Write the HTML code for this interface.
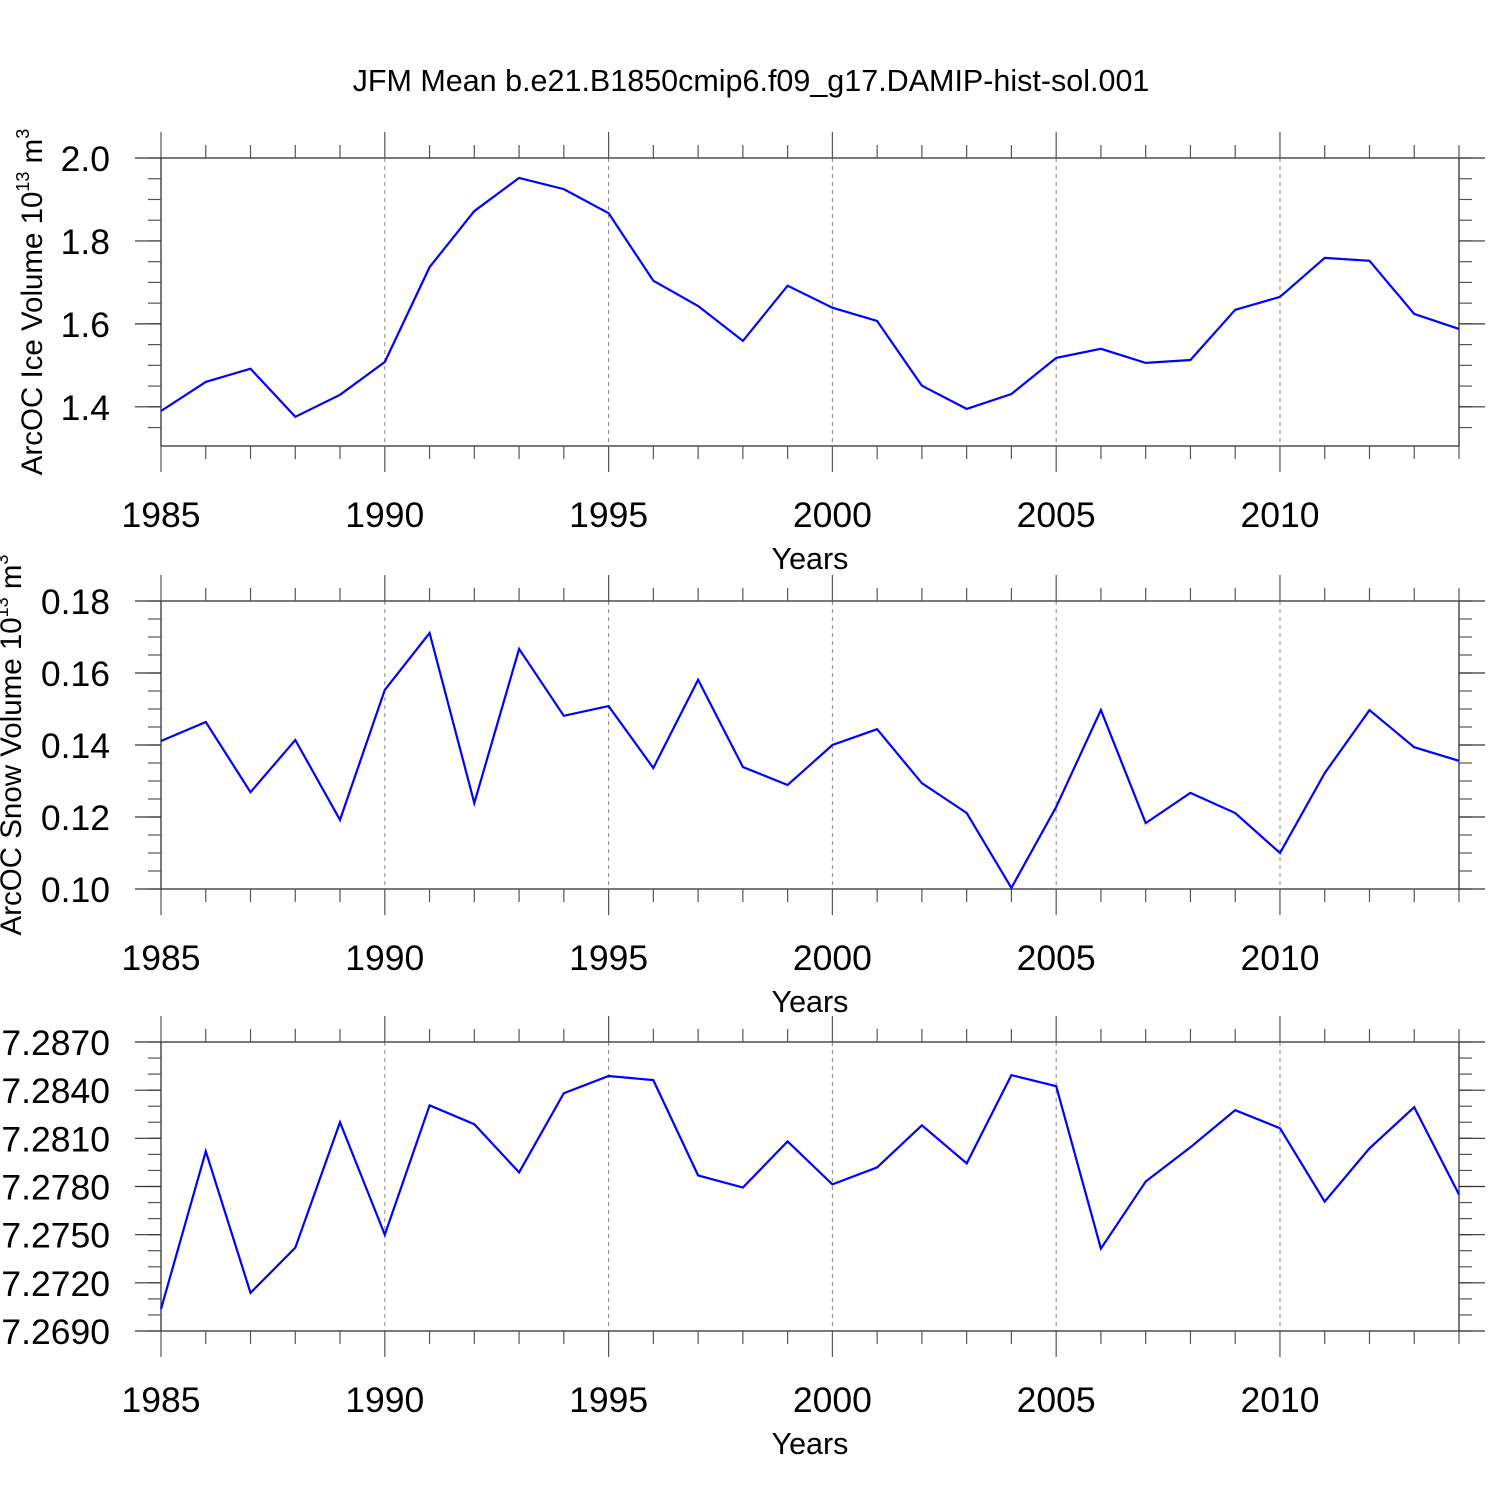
<!DOCTYPE html>
<html><head><meta charset="utf-8"><style>
html,body{margin:0;padding:0;background:#fff;}
svg{display:block;font-family:"Liberation Sans",sans-serif;}
</style></head><body>
<svg id="chart" width="1500" height="1500" viewBox="0 0 1500 1500" xmlns="http://www.w3.org/2000/svg">
<rect width="1500" height="1500" fill="#fff"/>
<text x="751" y="91" font-size="30.5" text-anchor="middle">JFM Mean b.e21.B1850cmip6.f09_g17.DAMIP-hist-sol.001</text>
</svg>
<script>
const years = [1985,1986,1987,1988,1989,1990,1991,1992,1993,1994,1995,1996,1997,1998,1999,2000,2001,2002,2003,2004,2005,2006,2007,2008,2009,2010,2011,2012,2013,2014];
const iceVolume = [1.390,1.460,1.492,1.376,1.429,1.508,1.737,1.872,1.952,1.925,1.867,1.704,1.643,1.559,1.692,1.639,1.607,1.451,1.395,1.431,1.518,1.540,1.506,1.513,1.634,1.665,1.759,1.752,1.624,1.588];
const snowVolume = [0.1411,0.1464,0.1269,0.1414,0.1192,0.1553,0.1711,0.1239,0.1667,0.1481,0.1508,0.1336,0.1581,0.1339,0.1289,0.1400,0.1444,0.1294,0.1211,0.1003,0.1228,0.1497,0.1183,0.1267,0.1211,0.1100,0.1322,0.1497,0.1394,0.1356];
const thirdSeries = [7.27037,7.28019,7.27138,7.27419,7.28200,7.27500,7.28306,7.28188,7.27888,7.28381,7.28488,7.28463,7.27869,7.27794,7.28081,7.27813,7.27919,7.28181,7.27944,7.28494,7.28425,7.27413,7.27831,7.28044,7.28275,7.28163,7.27706,7.28038,7.28294,7.27750];
const xTickLabels = ["1985","1990","1995","2000","2005","2010"];
const iceTicks = ["1.4","1.6","1.8","2.0"];
const snowTicks = ["0.10","0.12","0.14","0.16","0.18"];
const thirdTicks = ["7.2690","7.2720","7.2750","7.2780","7.2810","7.2840","7.2870"];

const NS="http://www.w3.org/2000/svg";
const svg=document.getElementById('chart');
const X0=161,X1=1459,xMin=1985,xMax=2014;
const xs=v=>X0+(v-xMin)/(xMax-xMin)*(X1-X0);
function mk(tag,attrs,parent){const e=document.createElementNS(NS,tag);for(const k in attrs)e.setAttribute(k,attrs[k]);(parent||svg).appendChild(e);return e;}

const panels=[
 {name:'ice',top:158,bot:446,yMin:1.3055,yMax:2.0,data:iceVolume,ticks:iceTicks,minor:0.05,title:'ArcOC Ice Volume 10',tx:42,ty:302},
 {name:'snow',top:601,bot:889,yMin:0.10,yMax:0.18,data:snowVolume,ticks:snowTicks,minor:0.005,title:'ArcOC Snow Volume 10',tx:21,ty:745},
 {name:'third',top:1042,bot:1331,yMin:7.269,yMax:7.287,data:thirdSeries,ticks:thirdTicks,minor:0.001,title:null}
];
panels.forEach(p=>{
 const g=mk('g',{});
 
 
 const ys=v=>p.bot-(v-p.yMin)/(p.yMax-p.yMin)*(p.bot-p.top);
 for(let yr=1990;yr<=2010;yr+=5){
  const l=mk('line',{x1:xs(yr),x2:xs(yr),y1:p.top,y2:p.bot,stroke:'#888','stroke-width':1,'stroke-dasharray':'4,4'},g);
  
  
 }
 const fr=mk('rect',{x:X0,y:p.top,width:X1-X0,height:p.bot-p.top,fill:'none',stroke:'#333','stroke-width':1.3},g);
 
 
 for(let yr=xMin;yr<=xMax;yr++){
  const L=(yr%5===0)?26:13;const x=xs(yr);
  mk('line',{x1:x,x2:x,y1:p.top-L,y2:p.top,stroke:'#555','stroke-width':1.2},g);
  mk('line',{x1:x,x2:x,y1:p.bot,y2:p.bot+L,stroke:'#555','stroke-width':1.2},g);
 }
 xTickLabels.forEach(t=>{
  const tx=mk('text',{x:xs(+t),y:p.bot+81,'font-size':35.5,'text-anchor':'middle'},g);
  tx.textContent=t;
  
  
 });
 const yl=mk('text',{x:810,y:p.bot+123,'font-size':30.5,'text-anchor':'middle'},g);
 yl.textContent='Years';
 
 
 const start=Math.ceil(p.yMin/p.minor-1e-6)*p.minor;
 for(let v=start;v<=p.yMax+1e-9;v+=p.minor){
  const y=ys(v);
  mk('line',{x1:X0-13,x2:X0,y1:y,y2:y,stroke:'#555','stroke-width':1.2},g);
  mk('line',{x1:X1,x2:X1+13,y1:y,y2:y,stroke:'#555','stroke-width':1.2},g);
 }
 p.ticks.forEach(t=>{
  const y=ys(+t);
  mk('line',{x1:X0-26,x2:X0,y1:y,y2:y,stroke:'#333','stroke-width':1.2},g);
  mk('line',{x1:X1,x2:X1+26,y1:y,y2:y,stroke:'#333','stroke-width':1.2},g);
  const tx=mk('text',{x:X0-51,y:y+13,'font-size':35.5,'text-anchor':'end'},g);
  tx.textContent=t;
  
  
 });
 if(p.title){
  const tt=mk('text',{transform:`translate(${p.tx},${p.ty}) rotate(-90)`,'font-size':29.5,'text-anchor':'middle'},g);
  
  
  const s1=document.createElementNS(NS,'tspan');s1.textContent=p.title;tt.appendChild(s1);
  const s2=document.createElementNS(NS,'tspan');s2.setAttribute('dy','-13');s2.setAttribute('font-size','18');s2.textContent='13';tt.appendChild(s2);
  const s3=document.createElementNS(NS,'tspan');s3.setAttribute('dy','13');s3.textContent=' m';tt.appendChild(s3);
  const s4=document.createElementNS(NS,'tspan');s4.setAttribute('dy','-13');s4.setAttribute('font-size','18');s4.textContent='3';tt.appendChild(s4);
 }
 const pts=p.data.map((v,i)=>xs(years[i]).toFixed(1)+','+ys(v).toFixed(1)).join(' ');
 const pl=mk('polyline',{points:pts,fill:'none',stroke:'#0000ff','stroke-width':2.2,'stroke-linejoin':'miter'},g);
 
 
});
</script>
</body></html>
